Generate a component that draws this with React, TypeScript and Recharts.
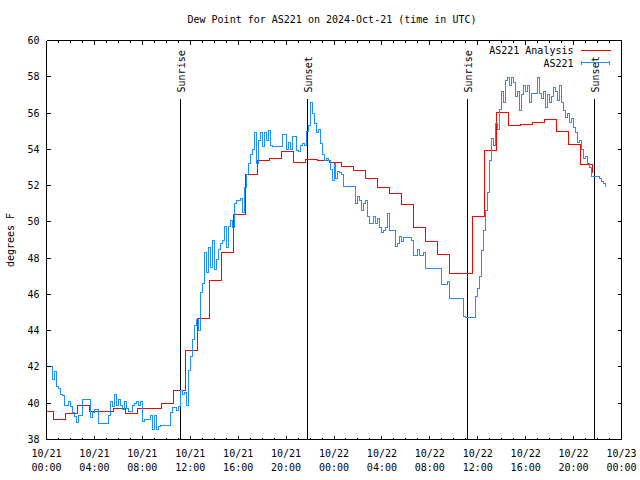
import { LineChart, Line, XAxis, YAxis, ReferenceLine } from "recharts"

// ============================================
// DATA
// ============================================

// Hourly analysis, each value holds from :36 past the hour
const analysisValues = [
  39.52, 39.08, 39.43, 39.85, 39.56, 39.52, 39.72, 39.43, 39.72, 39.72,
  40.0, 40.68, 42.88, 44.65, 46.74, 48.32, 50.41, 52.63, 53.38, 53.49,
  53.89, 53.27, 53.44, 53.38, 53.25, 53.07, 52.81, 52.39, 51.9, 51.57,
  50.96, 49.71, 48.94, 48.21, 47.17, 47.17, 50.32, 53.93, 56.02, 55.31,
  55.38, 55.47, 55.64, 54.98, 54.28, 53.16, 52.7,
]
const analysisHours = analysisValues.map((_, i) => (i === 0 ? 0 : i - 0.4))

// Station obs, one every 10 min from 10/21 00:00 UTC (one row = one hour)
const obsValues = [
  42.0, 42.0, 42.0, 41.3, 41.76, 40.9,
  40.8, 40.5, 40.4, 39.85, 39.9, 40.1,
  39.8, 39.5, 39.28, 38.92, 39.3, 39.3,
  40.2, 40.2, 40.2, 40.2, 39.2, 39.5,
  39.65, 39.65, 38.88, 38.88, 38.88, 38.88,
  38.88, 39.3, 40.1, 39.8, 40.47, 39.9,
  40.2, 39.9, 39.65, 40.1, 39.7, 39.56,
  39.56, 39.9, 40.0, 40.1, 39.9, 40.1,
  39.0, 39.1, 39.1, 39.1, 39.3, 38.55,
  39.3, 38.55, 38.73, 38.77, 38.77, 38.77,
  38.77, 38.77, 39.5, 39.74, 39.74, 39.6,
  39.8, 40.7, 40.5, 40.6, 39.9, 41.8,
  42.6, 43.5, 44.3, 44.6, 44.0, 46.1,
  46.6, 48.3, 47.2, 48.6, 47.5, 49.0,
  47.35, 47.9, 48.5, 48.8, 49.0, 49.73,
  48.6, 49.73, 50.1, 49.7, 51.0, 51.2,
  51.2, 51.3, 50.5, 51.9, 52.6, 53.2,
  53.7, 54.0, 54.9, 53.2, 54.5, 54.9,
  54.13, 54.9, 54.5, 55.05, 54.2, 54.17,
  54.17, 54.17, 54.17, 54.17, 54.8, 54.8,
  54.0, 54.4, 54.0, 54.7, 54.7, 53.95,
  53.9, 54.2, 54.3, 54.2, 54.96, 55.3,
  56.6, 56.0, 55.4, 54.9, 55.1, 54.3,
  53.7, 53.4, 53.5, 53.4, 52.9, 52.3,
  53.2, 52.4, 52.8, 52.7, 52.6, 51.94,
  51.94, 51.94, 51.94, 51.94, 51.94, 51.0,
  51.4, 51.2, 50.65, 51.0, 51.2, 50.3,
  49.9, 49.9, 50.3, 49.9, 50.2, 49.7,
  49.4, 49.55, 49.7, 50.48, 49.55, 49.55,
  49.55, 48.63, 48.8, 49.18, 48.9, 49.16,
  49.16, 49.16, 49.16, 49.0, 48.17, 48.17,
  48.45, 48.17, 48.17, 48.3, 47.44, 47.44,
  47.44, 47.44, 47.44, 47.44, 47.44, 47.44,
  46.53, 46.53, 46.53, 46.7, 45.8, 45.8,
  45.75, 45.75, 45.75, 45.75, 45.75, 44.8,
  44.75, 44.75, 44.75, 44.75, 44.75, 45.9,
  46.3, 47.0, 48.4, 49.55, 50.6, 51.6,
  53.4, 54.6, 54.2, 55.4, 55.1, 56.2,
  57.2, 56.6, 57.8, 57.98, 57.5, 57.98,
  57.7, 56.9, 57.2, 56.15, 57.0, 57.5,
  57.2, 57.5, 56.6, 57.07, 57.07, 57.1,
  57.95, 57.1, 56.8, 57.2, 56.33, 57.0,
  56.6, 56.9, 57.4, 57.2, 56.7, 57.5,
  56.6, 56.15, 55.78, 56.0, 55.5, 55.7,
  55.2, 54.9, 54.4, 54.5, 54.0, 53.5,
  53.6, 53.2, 53.0, 52.5, 52.5, 52.5,
  52.5, 52.4, 52.2, 52.1, 51.93,
]
const obsHours = obsValues.map((_, i) => i / 6)

const sunLabels = ["Sunrise", "Sunset", "Sunrise", "Sunset"]
const sunHours = [11.19, 21.79, 35.15, 45.75]

const hourTicks = Array.from({ length: 49 }, (_, i) => i)
const yTicks = [38, 40, 42, 44, 46, 48, 50, 52, 54, 56, 58, 60]
const tickDates = ["10/21", "10/21", "10/21", "10/21", "10/21", "10/21", "10/22", "10/22", "10/22", "10/22", "10/22", "10/22", "10/23"]
const tickTimes = ["00:00", "04:00", "08:00", "12:00", "16:00", "20:00", "00:00", "04:00", "08:00", "12:00", "16:00", "20:00", "00:00"]

const analysisData = analysisHours.map((t, i) => ({ t, v: analysisValues[i] }))
const obsData = obsHours.map((t, i) => ({ t, v: obsValues[i] }))

// ============================================
// TICKS (gnuplot style, pointing inward)
// ============================================

const FONT = "'DejaVu Sans Mono', monospace"
const RED = "#ff0000"
const BLUE = "#1e90ff"

function BottomTick({ x, y, payload }: any) {
  const h = payload.value
  const major = h % 4 === 0
  return (
    <g>
      <line x1={x} x2={x} y1={y} y2={y - (major ? 4 : 2)} stroke="#000" />
      {major && (
        <text textAnchor="middle" fontSize={10} fontFamily={FONT} fill="#000">
          <tspan x={x} y={y + 13.5} dominantBaseline="central">{tickDates[h / 4]}</tspan>
          <tspan x={x} y={y + 27.5} dominantBaseline="central">{tickTimes[h / 4]}</tspan>
        </text>
      )}
    </g>
  )
}

function TopTick({ x, y, payload }: any) {
  const major = payload.value % 4 === 0
  return <line x1={x} x2={x} y1={y} y2={y + (major ? 4 : 2)} stroke="#000" />
}

function LeftTick({ x, y, payload }: any) {
  return (
    <g>
      <line x1={x} x2={x + 4} y1={y} y2={y} stroke="#000" />
      <text x={x - 7} y={y} textAnchor="end" dominantBaseline="central" fontSize={10} fontFamily={FONT} fill="#000">
        {payload.value}
      </text>
    </g>
  )
}

function RightTick({ x, y }: any) {
  return <line x1={x} x2={x - 4} y1={y} y2={y} stroke="#000" />
}

function SunLabel({ viewBox, text }: any) {
  if (!viewBox) return null
  return (
    <text
      transform={`translate(${viewBox.x + 1},${viewBox.y - 7}) rotate(-90)`}
      textAnchor="start"
      dominantBaseline="central"
      fontSize={10}
      fontFamily={FONT}
      fill="#000"
    >
      {text}
    </text>
  )
}

// ============================================
// COMPONENT
// ============================================

export default function App() {
  return (
    <div
      style={{
        position: "absolute",
        left: 0,
        top: 0,
        width: 640,
        height: 480,
        background: "#fff",
        shapeRendering: "crispEdges",
      }}
    >
      <LineChart width={640} height={480} margin={{ top: 0, right: 0, bottom: 0, left: 0 }}>
        <XAxis
          xAxisId="bottom"
          type="number"
          dataKey="t"
          domain={[0, 48]}
          allowDataOverflow
          ticks={hourTicks}
          interval={0}
          height={40.5}
          tickSize={0}
          tickMargin={0}
          tickLine={false}
          axisLine={{ stroke: "#000" }}
          tick={<BottomTick />}
        />
        <XAxis
          xAxisId="top"
          orientation="top"
          type="number"
          dataKey="t"
          domain={[0, 48]}
          allowDataOverflow
          ticks={hourTicks}
          interval={0}
          height={40.5}
          tickSize={0}
          tickMargin={0}
          tickLine={false}
          axisLine={{ stroke: "#000" }}
          tick={<TopTick />}
        />
        <YAxis
          yAxisId="left"
          type="number"
          domain={[38, 60]}
          allowDataOverflow
          ticks={yTicks}
          interval={0}
          width={46.5}
          tickSize={0}
          tickMargin={0}
          tickLine={false}
          axisLine={{ stroke: "#000" }}
          tick={<LeftTick />}
        />
        <YAxis
          yAxisId="right"
          orientation="right"
          type="number"
          domain={[38, 60]}
          allowDataOverflow
          ticks={yTicks}
          interval={0}
          width={18.5}
          tickSize={0}
          tickMargin={0}
          tickLine={false}
          axisLine={{ stroke: "#000" }}
          tick={<RightTick />}
        />

        {sunHours.map((h, i) => (
          <ReferenceLine
            key={i}
            xAxisId="bottom"
            yAxisId="left"
            segment={[{ x: h, y: 38 }, { x: h, y: 56.75 }]}
            stroke="#000"
            strokeWidth={1}
            label={<SunLabel text={sunLabels[i]} />}
          />
        ))}

        <Line
          xAxisId="top"
          yAxisId="right"
          data={analysisData}
          dataKey="v"
          type="stepAfter"
          stroke={RED}
          strokeWidth={1}
          dot={false}
          activeDot={false}
          isAnimationActive={false}
        />
        <Line
          xAxisId="bottom"
          yAxisId="left"
          data={obsData}
          dataKey="v"
          type="stepAfter"
          stroke={BLUE}
          strokeWidth={1}
          dot={false}
          activeDot={false}
          isAnimationActive={false}
        />
      </LineChart>

      {/* title, y label and key */}
      <svg
        width={640}
        height={480}
        style={{ position: "absolute", left: 0, top: 0, pointerEvents: "none" }}
        fontFamily={FONT}
        fontSize={10}
      >
        <text x={332} y={19} textAnchor="middle" dominantBaseline="central" fill="#000">
          Dew Point for AS221 on 2024-Oct-21 (time in UTC)
        </text>
        <text transform="translate(10,240) rotate(-90)" textAnchor="middle" dominantBaseline="central" fill="#000">
          degrees F
        </text>
        <text x={573.5} y={50} textAnchor="end" dominantBaseline="central" fill="#000">
          AS221 Analysis
        </text>
        <line x1={580.5} x2={610.5} y1={50.5} y2={50.5} stroke={RED} />
        <text x={573.5} y={63} textAnchor="end" dominantBaseline="central" fill="#000">
          AS221
        </text>
        <line x1={581} x2={610} y1={62.5} y2={62.5} stroke={BLUE} />
        <line x1={581.5} x2={581.5} y1={60.5} y2={64.5} stroke={BLUE} />
        <line x1={609.5} x2={609.5} y1={60.5} y2={64.5} stroke={BLUE} />
      </svg>
    </div>
  )
}
